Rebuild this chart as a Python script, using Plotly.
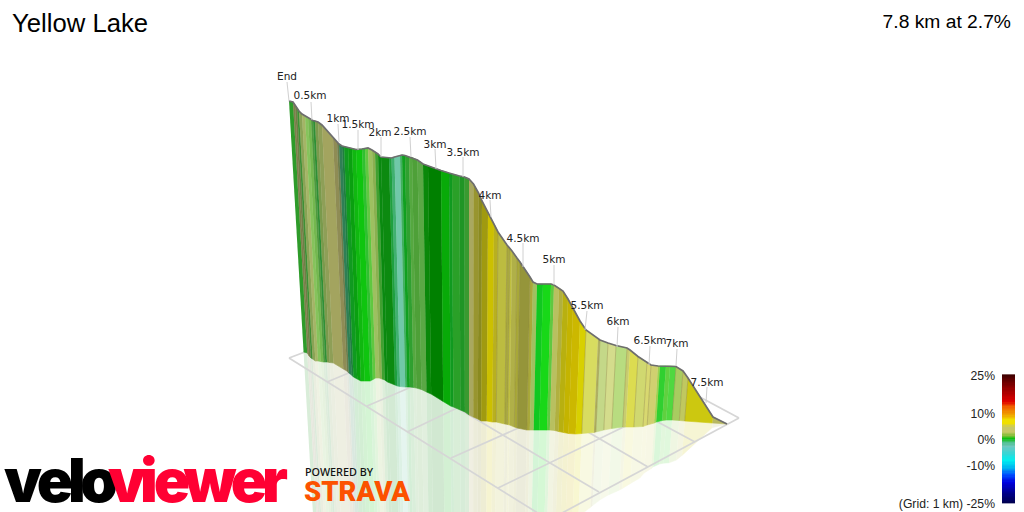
import numpy as np
import plotly.graph_objects as go

TITLE = "Yellow Lake"
SUMMARY = "7.8 km at 2.7%"

# Wall strips, one value per strip edge, in picture units
edge_x = [289,293,295,297,299,302,305,308,311,313,315,318,322,333,337,339,342,344,348,352,356,362,365,368,372,375,378,381,
          389,391.5,394.5,400,402,405,409,412,417.5,423,428,441,449,452,459.5,464.5,469,473.5,478.5,482,488,494,498,507,510,512,517,520,530,533,
          537,543,551,554,559,563,568,573,580,586,598,600,608,616,627,630,638,647,651,658,660,666,670,676,683,688,713,727]
edge_top = [101,102,105,108,111,114,116,118,120,120.5,121,122,125,138,142,144,146,146.5,147.5,148.5,149.5,149,148.5,148,150,152,154,157,
            158,158,157,155.5,155,155.5,157,157.5,160,164,166,170.5,173,174,176,177,179,184,193,201,213,224,232,245,248,251,258,262,277,282,
            284,284,284,285,288,291,299,308,321,330,339,340,343,345.5,348,350,356.5,362,365,366,366,366,366,366.5,371,378,417,424]
edge_base = [352,353,356,358,359,361,361,361.5,362,362,362,362.5,363,369,371,373,375,377,379,381,381,381,379.5,378,378,379,380,382,
             385,386,386.5,387,387,387,387.5,388,389.5,392,394,401.5,406,407,410,412,415,417,419,421,421,422,422,424,424.5,425,427,428,430,430,
             430,430,430,430,430.5,431.5,432.5,433.5,434,433.5,432.5,432,430,428.5,427,427,427,426.5,425,423,422,420.5,420,420,420.5,421,423,424]
strip_colors = ["#2e9b2a","#7f7f4c","#6f7f45","#3f8f35","#8aa355","#a4b566","#86c35c","#74b84f","#4f9a3e","#2f8f35","#7a9a4c","#8e9f57","#a3a45f","#8f8c55",
                "#6f7d4c","#2f7f55","#1f7f3f","#109a20","#0aa010","#10b810","#0fc50f","#30c030","#60c840","#9dc060","#8ab050","#40a030","#0a8a10","#0c8a10",
                "#1fa040","#40b070","#70c8a8","#40b060","#10a020","#30a030","#55a840","#4ea038","#5aa845","#0a880a","#008000","#08aa08","#109a20","#2aa028","#1f9525","#3a9a30",
                "#a9a860","#98952f","#8a8a20","#a09a10","#ccc000","#b8b020","#bcbc40","#a8a840","#c0c040","#b0b048","#a8a838","#95953a","#a8a83a","#a0c060",
                "#10c820","#18d818","#60c840","#b8c060","#b0b040","#b8b010","#c4b400","#ccb800","#d8d000","#d8dc60","#b0b060","#c4d888","#d4dc8c","#b8dc80","#c8cc70",
                "#dcdc50","#d0d870","#d8d870","#d0d070","#a0d050","#30d030","#60d040","#50d840","#a8cc60","#c0c860","#ccc810","#b8b860"]
# Strip edges that show a darker seam
seam_edges = [498,507,510,517,520,530,586,600,608,616,627,638,647,651,676,683,688]

# Ground grid, ends of each line
grid_x0 = [289,400,540,630,670, 289,327,367,407,451,498,549]
grid_y0 = [358,374,404,407,381, 358,382,406,432,458,488,520]
grid_x1 = [549,599,648,695,739, 400,380,430,480,550,640,739]
grid_y1 = [520,492,467,442,418, 316,360,379,397,414,419,418]

# Distance markers
km_labels = ["End","0.5km","1km","1.5km","2km","2.5km","3km","3.5km","4km","4.5km","5km","5.5km","6km","6.5km","7km","7.5km"]
km_label_x = [287,310,338,358,380,410,435,463,490,523,554,587,618,650,677,707]
km_label_y = [77,96,119.5,125,133,132,145,153,196,239,260,306.5,322.7,341.7,344,383]
km_tick_x0 = [287,311,338,358,381,410,435,463,490,523,554,587,618,650,677,707]
km_tick_y0 = [82,102,124,130,137,137,149,157,200,243,265,311,327,346,349,387]
km_tick_x1 = [289,312,339,358,381,411,436,463,491,523,554,585,617,649,676,706]
km_tick_y1 = [101,120,142,150,157,157,169,177,217,267,285,330,347,365,366,403]

# Gradient legend
legend_ticks = [25,10,0,-10,-25]
legend_tick_labels = ["25%","10%","0%","-10%","(Grid: 1 km) -25%"]
legend_grades = np.arange(-25,25.01,0.5)
legend_stops = [(-25,"#000050"),(-21,"#000090"),(-17,"#0000e0"),(-14,"#0050ff"),(-11.5,"#00b0f0"),(-8.5,"#00f0f0"),(-6,"#30d8d8"),
                (-3,"#70c8c0"),(-1.5,"#50c090"),(0,"#10c010"),(1.5,"#90c040"),(2.7,"#c8c868"),(4.6,"#c8c868"),(6,"#f0e000"),(7.5,"#f0e000"),
                (9.5,"#f0a000"),(12.6,"#f06000"),(14.5,"#e00000"),(19,"#a00000"),(25,"#400000")]

# Logo letters
logo_letters = list("veloviewer")
logo_x = [23,55,77,99,127,149,172,210,249,275]
logo_colors = ["#000000"]*4 + ["#ff0033"]*6

def wall_x(x_top, y_top, y):
    return 470 + (x_top-470)*(3220-y)/(3220-y_top)

def pale(c, a=0.18):
    r,g,b = int(c[1:3],16),int(c[3:5],16),int(c[5:7],16)
    return "rgb(%d,%d,%d)" % tuple(round(v*a+255*(1-a)) for v in (r,g,b))

fig = go.Figure()

# reflection
for i,c in enumerate(strip_colors):
    xs,ys = [],[]
    for j in (i,i+1):
        xs.append(wall_x(edge_x[j],edge_top[j],edge_base[j])); ys.append(edge_base[j])
    for j in (i+1,i):
        yr = edge_base[j]+0.8*(edge_base[j]-edge_top[j])
        xs.append(wall_x(edge_x[j],edge_top[j],yr)); ys.append(yr)
    fig.add_trace(go.Scatter(x=xs,y=ys,mode="lines",fill="toself",fillcolor=pale(c),
                             line=dict(color=pale(c),width=0.5),hoverinfo="skip"))

# grid
for x0,y0,x1,y1 in zip(grid_x0,grid_y0,grid_x1,grid_y1):
    fig.add_trace(go.Scatter(x=[x0,x1],y=[y0,y1],mode="lines",line=dict(color="#d6d6d6",width=1.7),hoverinfo="skip"))

# wall
for i,c in enumerate(strip_colors):
    xs = [edge_x[i],edge_x[i+1],wall_x(edge_x[i+1],edge_top[i+1],edge_base[i+1]),wall_x(edge_x[i],edge_top[i],edge_base[i])]
    ys = [edge_top[i],edge_top[i+1],edge_base[i+1],edge_base[i]]
    fig.add_trace(go.Scatter(x=xs,y=ys,mode="lines",fill="toself",fillcolor=c,
                             line=dict(color=c,width=0.6),hoverinfo="skip"))

# darker seams between strips
for e in seam_edges:
    j = edge_x.index(e)
    fig.add_trace(go.Scatter(x=[edge_x[j],wall_x(edge_x[j],edge_top[j],edge_base[j])],y=[edge_top[j],edge_base[j]],mode="lines",
                             line=dict(color="rgba(140,130,60,0.4)",width=1),hoverinfo="skip"))

# profile outline
fig.add_trace(go.Scatter(x=edge_x,y=edge_top,mode="lines",line=dict(color="#6e6e6e",width=1.7),hoverinfo="skip"))

# km ticks and labels
for x0,y0,x1,y1 in zip(km_tick_x0,km_tick_y0,km_tick_x1,km_tick_y1):
    fig.add_trace(go.Scatter(x=[x0,x1],y=[y0,y1],mode="lines",line=dict(color="#d0d0d0",width=1),hoverinfo="skip"))
fig.add_trace(go.Scatter(x=km_label_x,y=km_label_y,mode="text",text=km_labels,textposition="middle center",
                         textfont=dict(family="DejaVu Sans",size=10.5,color="#222222"),hoverinfo="skip"))

# gradient legend
fig.add_trace(go.Heatmap(x=[1002,1015],y=[439-2.56*g for g in legend_grades],z=[[g] for g in legend_grades],
                         zmin=-25,zmax=25,showscale=False,hoverinfo="skip",
                         colorscale=[[(g+25)/50,c] for g,c in legend_stops]))
fig.add_trace(go.Scatter(x=[995]*5,y=[441-2.56*t for t in legend_ticks],mode="text",text=legend_tick_labels,textposition="middle left",
                         textfont=dict(family="Liberation Sans",size=12.2,color="#222222"),hoverinfo="skip"))

# logo
fig.add_trace(go.Scatter(x=logo_x,y=[487]*10,mode="text",text=logo_letters,textposition="middle center",
                         textfont=dict(family="Inter",size=60,weight=900,color=logo_colors),hoverinfo="skip"))
fig.add_trace(go.Scatter(x=[305],y=[473.5],mode="text",text=["POWERED BY"],textposition="middle right",
                         textfont=dict(family="Noto Sans",size=10.8,weight=500,color="#111111"),hoverinfo="skip"))
fig.add_trace(go.Scatter(x=[304],y=[494],mode="text",text=["STRAVA"],textposition="middle right",
                         textfont=dict(family="Roboto",size=27.5,weight=900,color="#fc5200"),hoverinfo="skip"))

# headings
fig.add_trace(go.Scatter(x=[12],y=[25.5],mode="text",text=[TITLE],textposition="middle right",
                         textfont=dict(family="Liberation Sans",size=25.7,color="#000000"),hoverinfo="skip"))
fig.add_trace(go.Scatter(x=[1011],y=[23.5],mode="text",text=[SUMMARY],textposition="middle left",
                         textfont=dict(family="Liberation Sans",size=19.25,color="#000000"),hoverinfo="skip"))

fig.update_layout(width=1024,height=512,margin=dict(l=0,r=0,t=0,b=0),showlegend=False,
                  paper_bgcolor="white",plot_bgcolor="white",hovermode=False,
                  xaxis=dict(range=[0,1024],visible=False,fixedrange=True),
                  yaxis=dict(range=[512,0],visible=False,fixedrange=True))
fig.write_html("out.html",config=dict(displayModeBar=False),post_script="document.body.style.margin='0';document.documentElement.style.overflow='hidden';")
